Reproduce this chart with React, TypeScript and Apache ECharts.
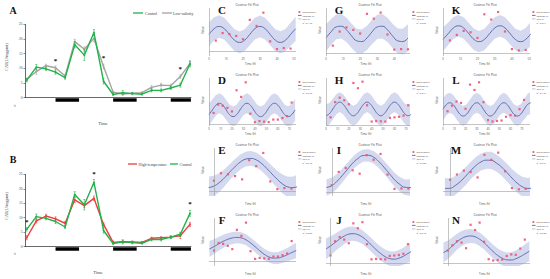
import React, { useEffect, useRef } from 'react';
import * as echarts from 'echarts';

// ---------------- data ----------------
const timeLabels = ['8:00', '12:00', '16:00', '20:00', '0:00', '4:00', '8:00', '12:00', '16:00', '20:00', '0:00', '4:00', '8:00', '12:00', '16:00', '20:00', '0:00', '4:00'];
const controlCAT = [6.0, 10.4, 9.8, 8.7, 6.8, 18.0, 14.5, 22.2, 5.6, 1.1, 1.7, 1.4, 1.2, 2.5, 2.5, 3.3, 4.3, 11.5];
const controlSE = [0.6, 0.9, 0.5, 0.7, 0.5, 1.0, 1.8, 1.0, 0.9, 0.4, 0.7, 0.4, 0.3, 0.5, 0.5, 0.5, 0.7, 1.0];
const lowSalinityCAT = [6.2, 8.9, 10.9, 10.2, 7.4, 19.1, 16.5, 20.2, 10.6, 1.9, 1.25, 1.5, 1.7, 3.5, 4.3, 4.1, 7.2, 11.7];
const lowSalinitySE = [0.5, 0.9, 0.5, 0.6, 0.5, 0.8, 0.8, 1.2, 0.8, 0.3, 0.4, 0.3, 0.3, 0.6, 0.6, 0.5, 0.6, 0.8];
const highTempCAT = [3.1, 8.9, 10.6, 9.6, 8.1, 16.2, 14.2, 16.7, 7.7, 1.5, 1.7, 1.6, 1.5, 2.9, 3.1, 3.3, 3.8, 7.7];
const highTempSE = [0.7, 0.7, 0.6, 0.7, 0.6, 1.0, 0.7, 0.8, 0.6, 0.4, 0.4, 0.4, 0.3, 0.4, 0.4, 0.4, 1.0, 0.7];
const darkStart = [3, 9, 15];
const darkEnd = [5.45, 11.45, 17.1];
const starIdxA = [3, 8, 16];
const starValA = [12.8, 13.8, 10.0];
const starIdxB = [0, 7, 17];
const starValB = [8.9, 25.3, 15.0];

const hours12From4 = [4, 8, 12, 16, 20, 24, 28, 32, 36, 40, 44, 48];
const hours12From0 = [0, 4, 8, 12, 16, 20, 24, 28, 32, 36, 40, 44];
const hours18From4 = [4, 8, 12, 16, 20, 24, 28, 32, 36, 40, 44, 48, 52, 56, 60, 64, 68, 72];
const hours18From0 = [0, 4, 8, 12, 16, 20, 24, 28, 32, 36, 40, 44, 48, 52, 56, 60, 64, 68];

const fitHours51 = [0, 3, 6, 9, 12, 15, 18, 21, 24, 27, 30, 33, 36, 39, 42, 45, 48, 51];
const fitHours48 = [0, 3, 6, 9, 12, 15, 18, 21, 24, 27, 30, 33, 36, 39, 42, 45, 48];
const fitHours75 = [0, 3, 6, 9, 12, 15, 18, 21, 24, 27, 30, 33, 36, 39, 42, 45, 48, 51, 54, 57, 60, 63, 66, 69, 72, 75];
const fitHours78 = [0, 3, 6, 9, 12, 15, 18, 21, 24, 27, 30, 33, 36, 39, 42, 45, 48, 51, 54, 57, 60, 63, 66, 69, 72, 75, 78];
const fitHoursLong48 = [-3, 0, 3, 6, 9, 12, 15, 18, 21, 24, 27, 30, 33, 36, 39, 42, 45, 48];
const fitHoursLong72 = [-4, 0, 4, 8, 12, 16, 20, 24, 28, 32, 36, 40, 44, 48, 52, 56, 60, 64, 68, 72];

const fitC = [9.6, 12.9, 14.2, 12.9, 9.6, 6.3, 5.0, 6.3, 9.6, 12.9, 14.2, 12.9, 9.6, 6.3, 5.0, 6.3, 9.6, 12.9];
const ciC = [7.0, 6.7, 6.5, 6.4, 6.3, 6.3, 6.3, 6.3, 6.3, 6.3, 6.3, 6.3, 6.3, 6.3, 6.4, 6.5, 6.7, 7.0];
const fitG = [6.3, 8.8, 10.8, 11.1, 9.6, 7.1, 5.1, 4.8, 6.3, 8.8, 10.8, 11.1, 9.6, 7.1, 5.1, 4.8, 6.3];
const ciG = [5.6, 5.3, 5.1, 5.0, 5.0, 5.0, 5.0, 5.0, 5.0, 5.0, 5.0, 5.0, 5.0, 5.0, 5.1, 5.3, 5.6];
const fitK = [6.7, 9.5, 12.3, 13.4, 12.3, 9.5, 6.7, 5.6, 6.7, 9.5, 12.3, 13.4, 12.3, 9.5, 6.7, 5.6, 6.7, 9.5];
const ciK = [5.9, 5.6, 5.4, 5.3, 5.3, 5.3, 5.3, 5.3, 5.3, 5.3, 5.3, 5.3, 5.3, 5.3, 5.3, 5.4, 5.6, 5.9];
const fitD = [5.1, 7.6, 10.1, 11.1, 10.1, 7.6, 5.1, 4.1, 5.1, 7.6, 10.1, 11.1, 10.1, 7.6, 5.1, 4.1, 5.1, 7.6, 10.1, 11.1, 10.1, 7.6, 5.1, 4.1, 5.1, 7.6];
const ciD = [5.9, 5.6, 5.4, 5.3, 5.3, 5.3, 5.3, 5.3, 5.3, 5.3, 5.3, 5.3, 5.3, 5.3, 5.3, 5.3, 5.3, 5.3, 5.3, 5.3, 5.3, 5.3, 5.3, 5.4, 5.6, 5.9];
const fitH = [3.7, 4.5, 6.3, 8.1, 8.9, 8.1, 6.3, 4.5, 3.7, 4.5, 6.3, 8.1, 8.9, 8.1, 6.3, 4.5, 3.7, 4.5, 6.3, 8.1, 8.9, 8.1, 6.3, 4.5, 3.7, 4.5];
const ciH = [4.4, 4.1, 3.9, 3.8, 3.8, 3.8, 3.8, 3.8, 3.8, 3.8, 3.8, 3.8, 3.8, 3.8, 3.8, 3.8, 3.8, 3.8, 3.8, 3.8, 3.8, 3.8, 3.8, 3.9, 4.1, 4.4];
const fitL = [7.1, 9.4, 10.3, 9.4, 7.1, 4.8, 3.9, 4.8, 7.1, 9.4, 10.3, 9.4, 7.1, 4.8, 3.9, 4.8, 7.1, 9.4, 10.3, 9.4, 7.1, 4.8, 3.9, 4.8, 7.1, 9.4, 10.3];
const ciL = [5.4, 5.1, 4.9, 4.8, 4.8, 4.8, 4.8, 4.8, 4.8, 4.8, 4.8, 4.8, 4.8, 4.8, 4.8, 4.8, 4.8, 4.8, 4.8, 4.8, 4.8, 4.8, 4.8, 4.8, 4.9, 5.1, 5.4];
const fitE = [2.0, 2.9, 4.9, 7.7, 11.1, 14.2, 16.9, 18.6, 19.0, 18.2, 16.1, 13.2, 9.9, 6.8, 4.1, 2.4, 2.0, 2.9];
const ciE = [6.5, 6.0, 5.5, 5.0, 4.7, 4.5, 4.4, 4.3, 4.3, 4.3, 4.4, 4.5, 4.7, 5.0, 5.5, 6.0, 6.5, 7.0];
const fitI = [2.1, 2.9, 4.8, 7.3, 10.0, 12.7, 14.7, 16.0, 16.1, 15.3, 13.4, 10.9, 8.2, 5.5, 3.5, 2.2, 2.1, 2.9];
const ciI = [3.6, 3.4, 3.2, 3.0, 2.9, 2.8, 2.8, 2.7, 2.7, 2.7, 2.8, 2.8, 2.9, 3.0, 3.2, 3.4, 3.6, 3.8];
const fitM = [1.7, 1.8, 3.2, 5.3, 8.0, 10.9, 13.5, 15.4, 16.3, 16.2, 14.8, 12.7, 10.0, 7.1, 4.5, 2.6, 1.7, 1.8];
const ciM = [5.4, 5.1, 4.9, 4.7, 4.6, 4.5, 4.4, 4.4, 4.4, 4.4, 4.4, 4.5, 4.6, 4.7, 4.9, 5.1, 5.4, 5.7];
const fitF = [6.9, 8.3, 9.8, 11.3, 12.5, 13.3, 13.6, 13.3, 12.2, 10.4, 8.2, 5.9, 3.8, 2.3, 1.6, 1.7, 2.4, 3.5, 4.8, 6.0];
const ciF = [4.6, 4.3, 4.0, 3.8, 3.6, 3.5, 3.4, 3.3, 3.2, 3.2, 3.2, 3.2, 3.2, 3.3, 3.4, 3.5, 3.7, 3.9, 4.2, 4.5];
const fitJ = [5.8, 7.0, 8.4, 9.8, 11.0, 11.8, 12.0, 11.6, 10.6, 9.1, 7.3, 5.5, 3.9, 2.6, 1.8, 1.6, 2.0, 2.8, 3.9, 5.0];
const ciJ = [4.2, 3.9, 3.6, 3.4, 3.2, 3.0, 2.9, 2.9, 2.8, 2.8, 2.8, 2.8, 2.9, 2.9, 3.0, 3.1, 3.3, 3.5, 3.8, 4.1];
const fitN = [5.2, 6.6, 8.6, 10.6, 12.2, 13.2, 13.5, 13.1, 11.9, 10.1, 7.9, 5.7, 3.8, 2.4, 1.6, 1.5, 2.1, 3.2, 4.5, 5.9];
const ciN = [5.0, 4.6, 4.3, 4.0, 3.8, 3.6, 3.5, 3.4, 3.4, 3.4, 3.4, 3.4, 3.5, 3.6, 3.7, 3.9, 4.1, 4.4, 4.7, 5.0];

// ---------------- layout / styles ----------------
const SERIF = "'Liberation Serif', 'Times New Roman', serif";
const SANS = "'Open Sans', 'DejaVu Sans', sans-serif";
const GREEN = '#22b24a';
const GRAY = '#a3a3a3';
const RED = '#f03c3c';
const PT = '#ef5470';
const FIT = '#5363a8';
const BAND = '#d4d9ef';

const colLeft = [209, 326, 443];
const colRight = [296, 410, 530];
const titleX = [247, 370, 485];

type Small = {
  letter: string; col: number; row: number; xr: number[]; yr: number[];
  hours: number[]; vals: number[]; fitHours: number[]; fit: number[]; ci: number[]; r2: string;
};

const smallPanels: Small[] = [
  { letter: 'C', col: 0, row: 0, xr: [0, 51.2], yr: [-2.9, 24.9], hours: hours12From4, vals: controlCAT.slice(0, 12), fitHours: fitHours51, fit: fitC, ci: ciC, r2: 'R²: 0.418' },
  { letter: 'G', col: 1, row: 0, xr: [0, 49.2], yr: [-1.15, 18.6], hours: hours12From4, vals: highTempCAT.slice(0, 12), fitHours: fitHours48, fit: fitG, ci: ciG, r2: 'R²: 0.376' },
  { letter: 'K', col: 2, row: 0, xr: [0, 50.5], yr: [-1.5, 22.2], hours: hours12From4, vals: lowSalinityCAT.slice(0, 12), fitHours: fitHours51, fit: fitK, ci: ciK, r2: 'R²: 0.341' },
  { letter: 'D', col: 0, row: 1, xr: [0, 75.8], yr: [-0.9, 24.5], hours: hours18From4, vals: controlCAT, fitHours: fitHours75, fit: fitD, ci: ciD, r2: 'R²: 0.218' },
  { letter: 'H', col: 1, row: 1, xr: [0, 73.6], yr: [-0.2, 18.1], hours: hours18From4, vals: highTempCAT, fitHours: fitHours75, fit: fitH, ci: ciH, r2: 'R²: 0.241' },
  { letter: 'L', col: 2, row: 1, xr: [0, 77.3], yr: [-0.95, 22.3], hours: hours18From4, vals: lowSalinityCAT, fitHours: fitHours78, fit: fitL, ci: ciL, r2: 'R²: 0.196' },
  { letter: 'E', col: 0, row: 2, xr: [-2.8, 46.6], yr: [-2.9, 25.1], hours: hours12From0, vals: controlCAT.slice(0, 12), fitHours: fitHoursLong48, fit: fitE, ci: ciE, r2: 'R²: 0.642' },
  { letter: 'I', col: 1, row: 2, xr: [-3.3, 44.9], yr: [-1.6, 19.3], hours: hours12From0, vals: highTempCAT.slice(0, 12), fitHours: fitHoursLong48, fit: fitI, ci: ciI, r2: 'R²: 0.702' },
  { letter: 'M', col: 2, row: 2, xr: [-4.1, 46.5], yr: [-2.2, 22.6], hours: hours12From0, vals: lowSalinityCAT.slice(0, 12), fitHours: fitHoursLong48, fit: fitM, ci: ciM, r2: 'R²: 0.671' },
  { letter: 'F', col: 0, row: 3, xr: [-4.4, 71.8], yr: [-3.0, 24.9], hours: hours18From0, vals: controlCAT, fitHours: fitHoursLong72, fit: fitF, ci: ciF, r2: 'R²: 0.587' },
  { letter: 'J', col: 1, row: 3, xr: [-4, 69.8], yr: [-1.2, 18.4], hours: hours18From0, vals: highTempCAT, fitHours: fitHoursLong72, fit: fitJ, ci: ciJ, r2: 'R²: 0.613' },
  { letter: 'N', col: 2, row: 3, xr: [-4.4, 72.6], yr: [-1.5, 22.5], hours: hours18From0, vals: lowSalinityCAT, fitHours: fitHoursLong72, fit: fitN, ci: ciN, r2: 'R²: 0.598' },
];

const stepFmt = (step: number) => (v: number) => {
  const k = v / step;
  return Math.abs(k - Math.round(k)) < 1e-6 ? String(Math.round(v)) : '';
};

function txt(x: number, y: number, text: string, font: string, fill: string, align = 'left', rotation = 0): any {
  return {
    type: 'text', x, y, rotation, silent: true, z: 50,
    style: { text, font, fill, align, textAlign: align, verticalAlign: 'middle', textVerticalAlign: 'middle' },
  };
}
function seg(x1: number, y1: number, x2: number, y2: number, stroke: string, lineWidth: number): any {
  return { type: 'line', silent: true, z: 50, shape: { x1, y1, x2, y2 }, style: { stroke, lineWidth } };
}

function buildOption() {
  const grid: any[] = [];
  const xAxis: any[] = [];
  const yAxis: any[] = [];
  const series: any[] = [];
  const graphic: any[] = [];

  // ---------- big panels A and B ----------
  const bigPanels = [
    {
      top: 24.3, height: 73.4, letter: 'A', letterY: 10, timeX: 103, timeY: 123, zeroLabelY: 106, catY: 57,
      lines: [
        { vals: lowSalinityCAT, err: lowSalinitySE, color: GRAY },
        { vals: controlCAT, err: controlSE, color: GREEN },
      ],
      starIdx: starIdxA, starVal: starValA,
      legend: [
        { x1: 133, x2: 143, color: GREEN, label: 'Control', tx: 145 },
        { x1: 162, x2: 172, color: GRAY, label: 'Low-salinity', tx: 173 },
      ],
      legendY: 13,
    },
    {
      top: 174.3, height: 72.4, letter: 'B', letterY: 159, timeX: 98, timeY: 272, zeroLabelY: 254, catY: 206,
      lines: [
        { vals: highTempCAT, err: highTempSE, color: RED },
        { vals: controlCAT, err: controlSE, color: GREEN },
      ],
      starIdx: starIdxB, starVal: starValB,
      legend: [
        { x1: 128, x2: 137, color: RED, label: 'High-temperature', tx: 138.5 },
        { x1: 170, x2: 178, color: GREEN, label: 'Control', tx: 179.5 },
      ],
      legendY: 164,
    },
  ];

  bigPanels.forEach((bp) => {
    const gi = grid.length;
    grid.push({ left: 25, top: bp.top, width: 165.9, height: bp.height, outerBoundsMode: 'none', containLabel: false });
    xAxis.push({
      type: 'value', gridIndex: gi, min: -0.18, max: 17.1, interval: 1,
      axisLine: { show: true, onZero: false, lineStyle: { color: '#444', width: 0.8 } },
      axisTick: { show: false }, splitLine: { show: false },
      axisLabel: {
        rotate: 45, fontSize: 3.6, color: '#444', fontFamily: SERIF, margin: 4.5, hideOverlap: false,
        showMinLabel: true, showMaxLabel: true,
        formatter: (v: number) => {
          const r = Math.round(v);
          return Math.abs(v - r) < 1e-6 && r >= 0 && r < timeLabels.length ? timeLabels[r] : '';
        },
      },
    });
    yAxis.push({
      type: 'value', gridIndex: gi, min: 0, max: 25, interval: 5,
      axisLine: { show: true, onZero: false, lineStyle: { color: '#444', width: 0.8 } },
      axisTick: { show: true, length: 1.5, lineStyle: { color: '#444', width: 0.6 } },
      splitLine: { show: false },
      axisLabel: { fontSize: 3.6, color: '#444', fontFamily: SERIF, margin: 2.5 },
    });

    // dark periods
    series.push({
      type: 'custom', xAxisIndex: gi, yAxisIndex: gi, clip: false, silent: true, z: 6,
      data: darkStart.map((s, i) => [s, darkEnd[i]]),
      encode: { x: [0, 1] },
      renderItem: (_p: any, api: any) => {
        const a = api.coord([api.value(0), 0]);
        const b = api.coord([api.value(1), 0]);
        return { type: 'rect', shape: { x: a[0], y: a[1] + 0.6, width: b[0] - a[0], height: 3.4 }, style: { fill: '#000' } };
      },
    });

    bp.lines.forEach((ln, li) => {
      series.push({
        type: 'custom', xAxisIndex: gi, yAxisIndex: gi, clip: false, silent: true, z: 3 + li * 2,
        data: ln.vals.map((v, i) => [i, v - ln.err[i], v + ln.err[i]]),
        encode: { x: 0, y: [1, 2] },
        renderItem: (_p: any, api: any) => {
          const x = api.value(0);
          const lo = api.coord([x, api.value(1)]);
          const hi = api.coord([x, api.value(2)]);
          const st = { stroke: ln.color, lineWidth: 0.6 };
          return {
            type: 'group', children: [
              { type: 'line', shape: { x1: lo[0], y1: lo[1], x2: hi[0], y2: hi[1] }, style: st },
              { type: 'line', shape: { x1: lo[0] - 1, y1: lo[1], x2: lo[0] + 1, y2: lo[1] }, style: st },
              { type: 'line', shape: { x1: hi[0] - 1, y1: hi[1], x2: hi[0] + 1, y2: hi[1] }, style: st },
            ],
          };
        },
      });
      series.push({
        type: 'line', xAxisIndex: gi, yAxisIndex: gi, clip: false, silent: true, z: 4 + li * 2,
        data: ln.vals.map((v, i) => [i, v]),
        symbol: 'circle', symbolSize: 1.8,
        lineStyle: { color: ln.color, width: 1.4 }, itemStyle: { color: ln.color },
      });
    });

    series.push({
      type: 'custom', xAxisIndex: gi, yAxisIndex: gi, clip: false, silent: true, z: 9,
      data: bp.starIdx.map((x, i) => [x, bp.starVal[i]]),
      encode: { x: 0, y: 1 },
      renderItem: (_p: any, api: any) => {
        const p = api.coord([api.value(0), api.value(1)]);
        return {
          type: 'text', x: p[0], y: p[1] + 1,
          style: { text: '*', font: `bold 7px ${SERIF}`, fill: '#111', align: 'center', verticalAlign: 'middle' },
        };
      },
    });

    graphic.push(txt(13, bp.letterY, bp.letter, `bold 10px ${SERIF}`, '#111', 'center'));
    graphic.push(txt(bp.timeX, bp.timeY, 'Time', `4.6px ${SERIF}`, '#444', 'center'));
    graphic.push(txt(15, bp.zeroLabelY, '0', `3.6px ${SERIF}`, '#444', 'center', Math.PI / 4));
    graphic.push(txt(6, bp.catY, 'CAT(U/mgprot)', `4.3px ${SERIF}`, '#444', 'center', Math.PI / 2));
    bp.legend.forEach((lg) => {
      graphic.push(seg(lg.x1, bp.legendY, lg.x2, bp.legendY, lg.color, 1.3));
      graphic.push(txt(lg.tx, bp.legendY, lg.label, `4px ${SERIF}`, '#444', 'left'));
    });
  });

  // ---------- small cosinor panels ----------
  smallPanels.forEach((sp) => {
    const gi = grid.length;
    const L = colLeft[sp.col];
    const R = colRight[sp.col];
    const oy = 70 * sp.row;
    const top = oy + 8;
    const h = 48;
    grid.push({ left: L, top, width: R - L, height: h, outerBoundsMode: 'none', containLabel: false });
    xAxis.push({
      type: 'value', gridIndex: gi, min: sp.xr[0], max: sp.xr[1], interval: 10,
      axisLine: { show: false }, axisTick: { show: false }, splitLine: { show: false },
      axisLabel: { fontSize: 2.8, color: '#555', fontFamily: SANS, margin: 1.5, hideOverlap: false, formatter: stepFmt(10) },
    });
    yAxis.push({
      type: 'value', gridIndex: gi, min: sp.yr[0], max: sp.yr[1], interval: 5,
      axisLine: { show: false }, axisTick: { show: false }, splitLine: { show: false },
      axisLabel: { fontSize: 2.8, color: '#555', fontFamily: SANS, margin: 1.5, hideOverlap: false, formatter: stepFmt(5) },
    });
    // 95% CI band as one polygon built from the upper and lower bounds
    series.push({
      type: 'custom', xAxisIndex: gi, yAxisIndex: gi, clip: true, silent: true, z: 1,
      data: [[sp.fitHours[0], sp.fit[0]]],
      encode: { x: 0, y: 1 },
      renderItem: (_p: any, api: any) => {
        const upper = sp.fitHours.map((t, i) => api.coord([t, sp.fit[i] + sp.ci[i]]));
        const lower = sp.fitHours.map((t, i) => api.coord([t, sp.fit[i] - sp.ci[i]])).reverse();
        return {
          type: 'polygon',
          shape: { points: upper.concat(lower) },
          style: { fill: BAND, stroke: 'none' },
        };
      },
    });
    series.push({
      type: 'line', xAxisIndex: gi, yAxisIndex: gi, smooth: true, symbol: 'none', silent: true, z: 2,
      lineStyle: { color: FIT, width: 0.9 },
      data: sp.fitHours.map((t, i) => [t, sp.fit[i]]),
    });
    series.push({
      type: 'scatter', xAxisIndex: gi, yAxisIndex: gi, silent: true, z: 3,
      symbol: 'rect', symbolSize: 2.2, itemStyle: { color: PT, opacity: 0.9 },
      data: sp.hours.map((t, i) => [t, sp.vals[i]]),
      markLine: {
        silent: true, symbol: 'none', label: { show: false }, animation: false,
        lineStyle: { color: '#9c9c9c', width: 0.6, type: 'solid' },
        data: [{ yAxis: 0 }, { xAxis: 0 }],
      },
    });

    // texts
    graphic.push(txt(titleX[sp.col], oy + 4, 'Cosinor Fit Plot', `3.3px ${SANS}`, '#444', 'center'));
    graphic.push(txt(L + 13, oy + 9.5, sp.letter, `bold 11px ${SERIF}`, '#111', 'center'));
    graphic.push(txt((L + R) / 2 - 2, oy + 64, 'Time (h)', `2.9px ${SANS}`, '#444', 'center'));
    graphic.push(txt(L - 6.5, top + h / 2 - 2, 'Value', `2.9px ${SANS}`, '#444', 'center', Math.PI / 2));
    // legend
    const lx = R + 2.5;
    const ly = oy + 12;
    graphic.push({ type: 'rect', silent: true, z: 50, shape: { x: lx, y: ly - 0.9, width: 1.8, height: 1.8 }, style: { fill: PT } });
    graphic.push(txt(lx + 4, ly, 'Data Points', `2.4px ${SANS}`, '#444'));
    graphic.push(seg(lx - 0.5, ly + 3.4, lx + 3, ly + 3.4, FIT, 0.9));
    graphic.push(txt(lx + 4, ly + 3.4, 'Cosinor Fit', `2.4px ${SANS}`, '#444'));
    graphic.push({ type: 'rect', silent: true, z: 50, shape: { x: lx - 0.5, y: ly + 6, width: 3.5, height: 1.6 }, style: { fill: BAND } });
    graphic.push(txt(lx + 4, ly + 6.8, '95% CI', `2.4px ${SANS}`, '#444'));
    graphic.push(txt(lx + 4, ly + 10.2, sp.r2, `2.4px ${SANS}`, '#444'));
  });

  return {
    animation: false,
    backgroundColor: '#ffffff',
    grid, xAxis, yAxis, series, graphic,
  };
}

export default function App() {
  const ref = useRef<HTMLDivElement>(null);
  useEffect(() => {
    if (!ref.current) return;
    const chart = echarts.init(ref.current, undefined, { renderer: 'svg' });
    chart.setOption(buildOption());
    return () => chart.dispose();
  }, []);
  return (
    <div
      ref={ref}
      style={{ position: 'fixed', left: 0, top: 0, width: 550, height: 279, background: '#fff' }}
    />
  );
}
